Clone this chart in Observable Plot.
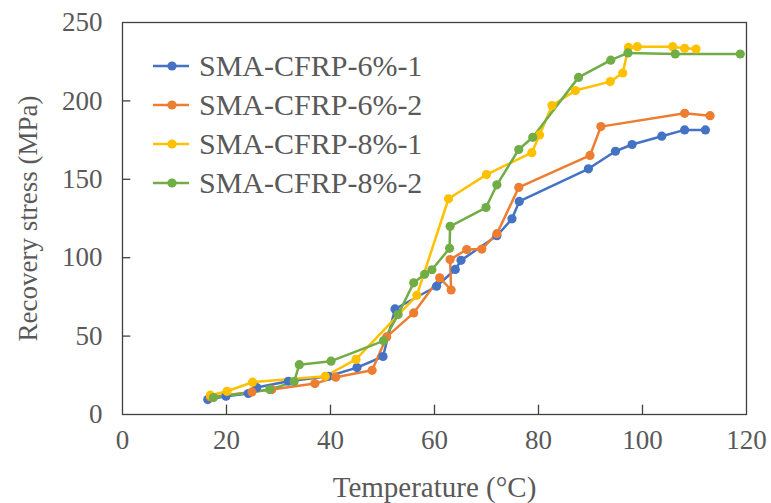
<!DOCTYPE html>
<html>
<head>
<meta charset="utf-8">
<script src="https://cdn.jsdelivr.net/npm/d3@7"></script>
<script src="https://cdn.jsdelivr.net/npm/@observablehq/plot@0.6"></script>
<style>
  html, body { margin: 0; padding: 0; background: #fff; }
  #wrap { position: relative; width: 771px; height: 503px; font-family: "Liberation Serif", "Times New Roman", serif; }
  #legend { position: absolute; left: 152px; top: 46px; color: #595959; font-size: 30px; }
  .item { display: flex; align-items: center; height: 39px; }
  .item svg { margin-right: 9px; }
</style>
</head>
<body>
<div id="wrap"><div id="legend"></div></div>
<script>
const seriesNames = ["SMA-CFRP-6%-1", "SMA-CFRP-6%-2", "SMA-CFRP-8%-1", "SMA-CFRP-8%-2"];
const seriesColors = ["#4472C4", "#ED7D31", "#FFC000", "#70AD47"];

const blueT = [16.4, 19.9, 24.2, 25.8, 31.9, 39.6, 45.1, 50.1, 52.4, 60.4, 64.0, 65.1, 72.0, 74.9, 76.3, 89.6, 94.8, 98.0, 103.7, 108.1, 112.1];
const blueS = [9.5, 11.7, 13.4, 17.2, 21.2, 24.4, 29.9, 37.0, 67.3, 81.8, 92.5, 98.3, 114.0, 124.8, 135.9, 156.7, 167.9, 172.2, 177.5, 181.5, 181.5];

const orangeT = [16.9, 24.9, 28.7, 37.0, 41.0, 48.0, 50.8, 56.0, 61.0, 63.2, 63.0, 66.2, 69.1, 72.0, 76.2, 89.9, 92.0, 108.1, 113.0];
const orangeS = [11.2, 14.4, 15.9, 19.7, 23.8, 28.2, 49.5, 64.8, 87.2, 79.4, 98.8, 105.2, 105.5, 115.3, 144.8, 165.2, 183.6, 192.1, 190.6];

const yellowT = [16.9, 20.1, 25.0, 39.0, 44.9, 56.6, 62.7, 70.0, 78.7, 80.2, 82.6, 87.1, 93.8, 96.2, 97.3, 99.0, 105.8, 108.1, 110.3];
const yellowS = [12.3, 14.8, 20.6, 24.4, 35.1, 76.0, 137.6, 153.0, 167.0, 178.3, 197.0, 206.6, 212.3, 217.8, 234.1, 234.6, 234.6, 233.5, 233.1];

const greenT = [17.5, 28.3, 33.0, 34.0, 40.1, 50.2, 53.0, 56.0, 58.1, 59.5, 62.9, 63.0, 69.9, 72.0, 76.2, 78.9, 87.7, 93.9, 97.2, 106.3, 118.8];
const greenS = [10.8, 15.9, 21.0, 31.8, 34.0, 47.0, 63.7, 84.0, 89.4, 92.3, 106.0, 120.0, 132.0, 146.5, 169.0, 176.8, 215.0, 226.0, 230.6, 229.9, 229.9];

const xTicks = [0, 20, 40, 60, 80, 100, 120];
const yTicks = [0, 50, 100, 150, 200, 250];
const xTitle = "Temperature (°C)";
const yTitle = "Recovery stress (MPa)";

const allT = [blueT, orangeT, yellowT, greenT];
const allS = [blueS, orangeS, yellowS, greenS];
const data = seriesNames.flatMap((name, i) => allT[i].map((t, j) => ({series: name, t, s: allS[i][j]})));

const gray = "#595959";
const chart = Plot.plot({
  width: 771,
  height: 503,
  marginLeft: 122,
  marginRight: 25,
  marginTop: 22,
  marginBottom: 89,
  style: {fontFamily: "Liberation Serif, Times New Roman, serif", color: gray, background: "#fff"},
  x: {domain: [0, 120]},
  y: {domain: [0, 250]},
  color: {domain: seriesNames, range: seriesColors},
  marks: [
    Plot.axisX({ticks: xTicks, tickSize: 0, tickPadding: 15, fontSize: 27, label: null}),
    Plot.axisY({ticks: yTicks, tickSize: 0, tickPadding: 20, fontSize: 27, label: null}),
    Plot.ruleX(xTicks.slice(1, -1), {x: d => d, y1: 0, y2: 6, stroke: "#404040", strokeWidth: 1.3}),
    Plot.ruleY(yTicks.slice(1, -1), {y: d => d, x1: 0, x2: 1.6, stroke: "#404040", strokeWidth: 1.3}),
    Plot.frame({stroke: "#404040", strokeWidth: 1.3}),
    Plot.text([xTitle], {frameAnchor: "bottom", dy: 73, fontSize: 29, lineAnchor: "middle", textAnchor: "middle", fill: gray}),
    Plot.text([yTitle], {frameAnchor: "left", dx: -94, rotate: -90, fontSize: 27, lineAnchor: "middle", textAnchor: "middle", fill: gray}),
    Plot.line(data, {x: "t", y: "s", z: "series", stroke: "series", strokeWidth: 2.5}),
    Plot.dot(data, {x: "t", y: "s", fill: "series", r: 4.6})
  ]
});
const wrap = document.getElementById("wrap");
wrap.insertBefore(chart, wrap.firstChild);

const legend = document.getElementById("legend");
seriesNames.forEach((name, i) => {
  const item = document.createElement("div");
  item.className = "item";
  item.innerHTML = `<svg width="38" height="12"><line x1="1" y1="6" x2="37" y2="6" stroke="${seriesColors[i]}" stroke-width="2.5"/><circle cx="20" cy="6" r="4.6" fill="${seriesColors[i]}"/></svg><span>${name}</span>`;
  legend.appendChild(item);
});
</script>
</body>
</html>
